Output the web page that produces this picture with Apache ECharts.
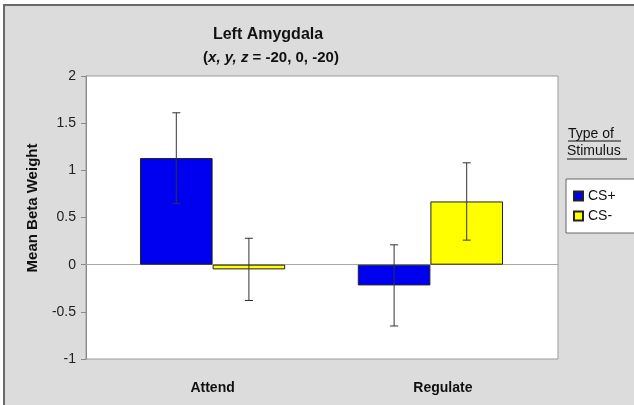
<!DOCTYPE html>
<html>
<head>
<meta charset="utf-8">
<script src="https://cdn.jsdelivr.net/npm/echarts@6/dist/echarts.min.js"></script>
<style>
html,body{margin:0;padding:0;background:#fff;}
#chart{width:634px;height:405px;}
</style>
</head>
<body>
<div id="chart"></div>
<script>
var categories = ['Attend', 'Regulate'];
var seriesNames = ['CS+', 'CS-'];
var csPlus = [1.13, -0.22];
var csMinus = [-0.05, 0.67];
var csPlusErr = [0.48, 0.43];
var csMinusErr = [0.33, 0.41];
var yTicks = [-1, -0.5, 0, 0.5, 1, 1.5, 2];

var FONT = '"Liberation Sans", Arial, sans-serif';
var chart = echarts.init(document.getElementById('chart'), null, {renderer: 'canvas'});

function errorSeries(values, errs, side) {
  return {
    type: 'custom',
    xAxisIndex: 1, yAxisIndex: 1,
    z: 5,
    silent: true,
    data: values.map(function (v, i) { return [i, v - errs[i], v + errs[i]]; }),
    renderItem: function (params, api) {
      var w = api.size([1, 0])[0];
      var lo = api.coord([api.value(0), api.value(1)]);
      var hi = api.coord([api.value(0), api.value(2)]);
      var x = lo[0] + side * w / 6;
      var cap = 4;
      var st = {stroke: '#333', lineWidth: 1};
      return {
        type: 'group',
        children: [
          {type: 'line', shape: {x1: x, y1: lo[1], x2: x, y2: hi[1]}, style: st},
          {type: 'line', shape: {x1: x - cap, y1: lo[1], x2: x + cap, y2: lo[1]}, style: st},
          {type: 'line', shape: {x1: x - cap, y1: hi[1], x2: x + cap, y2: hi[1]}, style: st}
        ]
      };
    }
  };
}

var option = {
  animation: false,
  backgroundColor: '#ffffff',
  textStyle: {fontFamily: FONT},
  graphic: [
    {type: 'rect', z: -10, shape: {x: 4, y: 5, width: 700, height: 500},
     style: {fill: '#dcdcdc', stroke: '#6a6a6a', lineWidth: 2}},
    {type: 'text', left: 568, top: 127, style: {text: 'Type of', font: '14px ' + FONT, fill: '#111'}},
    {type: 'line', shape: {x1: 568, y1: 141, x2: 621, y2: 141}, style: {stroke: '#111', lineWidth: 1}},
    {type: 'text', left: 567, top: 144, style: {text: 'Stimulus', font: '14px ' + FONT, fill: '#111'}},
    {type: 'line', shape: {x1: 567, y1: 159, x2: 627, y2: 159}, style: {stroke: '#111', lineWidth: 1}},
    {type: 'text', x: 33, y: 208, rotation: Math.PI / 2,
     style: {text: 'Mean Beta Weight', font: 'bold 15px ' + FONT, fill: '#111',
       align: 'center', verticalAlign: 'middle'}}
  ],
  title: [
    {text: 'Left Amygdala', left: 263, top: 22, textAlign: 'center',
     textStyle: {fontFamily: FONT, fontSize: 16, fontWeight: 'bold', color: '#111'}},
    {text: '({i|x, y, z}{b| = -20, 0, -20)}', left: 266, top: 45, textAlign: 'center',
     textStyle: {fontFamily: FONT, fontSize: 15, fontWeight: 'bold', color: '#111',
       rich: {
         i: {fontFamily: FONT, fontSize: 15, fontWeight: 'bold', fontStyle: 'italic', color: '#111'},
         b: {fontFamily: FONT, fontSize: 15, fontWeight: 'bold', color: '#111'}
       }}}
  ],
  legend: {
    orient: 'vertical',
    left: 566, top: 179,
    width: 60,
    padding: [10, 20, 10, 7],
    itemGap: 6,
    itemWidth: 9, itemHeight: 9,
    icon: 'rect',
    backgroundColor: '#ffffff',
    borderColor: '#666',
    borderWidth: 1,
    borderRadius: 0,
    textStyle: {fontFamily: FONT, fontSize: 14, color: '#111'},
    data: seriesNames
  },
  grid: [
    {left: 86, top: 76, width: 472, height: 283, show: true, backgroundColor: '#ffffff',
     borderColor: '#9a9a9a', borderWidth: 1},
    {left: 103.7, top: 76, width: 435.6, height: 283}
  ],
  xAxis: [
    {type: 'category', gridIndex: 0, data: categories,
     axisLine: {show: true, onZero: true, lineStyle: {color: '#a8a8a8', width: 1}},
     axisTick: {show: false}, axisLabel: {show: false}, splitLine: {show: false}},
    {type: 'category', gridIndex: 1, data: categories,
     axisLine: {show: false}, axisTick: {show: false},
     axisLabel: {
       margin: 22, fontFamily: FONT, fontSize: 14, fontWeight: 'bold', color: '#111',
       formatter: function (v, i) { return i === 1 ? '{r|' + v + '}' : '{a|' + v + '}'; },
       rich: {
         a: {fontFamily: FONT, fontSize: 14, fontWeight: 'bold', color: '#111'},
         r: {fontFamily: FONT, fontSize: 14, fontWeight: 'bold', color: '#111', padding: [0, 0, 0, 25]}
       }
     }}
  ],
  yAxis: [
    {type: 'value', gridIndex: 0, min: -1, max: 2, interval: 0.5,
     axisLine: {show: true, lineStyle: {color: '#8a8a8a'}},
     axisTick: {show: true, inside: false, length: 5, lineStyle: {color: '#8a8a8a'}},
     axisLabel: {margin: 10, fontFamily: FONT, fontSize: 14, color: '#222',
       formatter: function (v) { return String(v); }},
     splitLine: {show: false}},
    {type: 'value', gridIndex: 1, min: -1, max: 2, interval: 0.5,
     axisLine: {show: false}, axisTick: {show: false}, axisLabel: {show: false}, splitLine: {show: false}}
  ],
  series: [
    {name: seriesNames[0], type: 'bar', xAxisIndex: 1, yAxisIndex: 1, data: csPlus,
     barWidth: '33.333%', barGap: '0%',
     itemStyle: {color: '#0000f0', borderColor: '#222', borderWidth: 1}},
    {name: seriesNames[1], type: 'bar', xAxisIndex: 1, yAxisIndex: 1, data: csMinus,
     barWidth: '33.333%', barGap: '0%',
     itemStyle: {color: '#ffff00', borderColor: '#222', borderWidth: 1}},
    errorSeries(csPlus, csPlusErr, -1),
    errorSeries(csMinus, csMinusErr, 1)
  ]
};
chart.setOption(option);
</script>
</body>
</html>
